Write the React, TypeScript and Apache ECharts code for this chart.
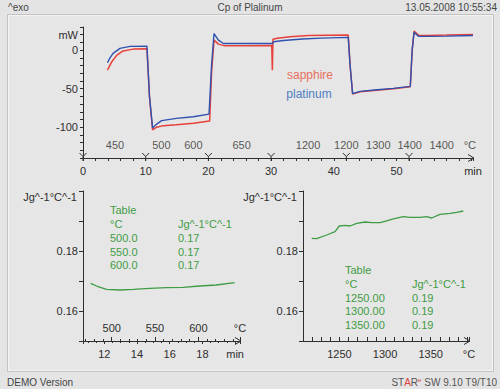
import React, { useEffect, useRef } from 'react';
import * as echarts from 'echarts';

// ---- top chart: heat flow (mW) vs time (min)
const sapphire: [number, number][] = [
  [3.9, -26], [4.6, -15], [5.4, -6.5], [6.4, -1], [8, 1.3], [10.2, 1.7],
  [10.6, -60], [11.1, -103.5], [11.75, -100], [12.8, -98], [14.9, -97], [17.6, -95], [20.2, -92],
  [20.5, -30], [20.9, 13], [21.6, 7.8], [22.5, 5.8], [26, 5.8], [30.1, 6],
  [30.2, -26], [30.3, 14], [31, 15.5], [33, 17.5], [36, 19], [39, 19.3], [42.3, 19.5],
  [42.6, -20], [43, -57], [44.2, -54], [46.9, -52], [49.5, -50.2], [52.2, -47.5],
  [52.5, 0], [52.8, 24.6], [53.5, 19.4], [55, 19], [58, 19.5], [62.2, 20.3],
];
const platinum: [number, number][] = [
  [3.9, -16.4], [4.3, -10], [4.8, -4.3], [5.9, 2.2], [7.5, 4.8], [10.2, 5.2],
  [10.6, -60], [11.1, -101], [11.75, -96], [12.55, -91.5], [14.9, -88.6], [17.6, -86.5], [20.1, -83],
  [20.5, -20], [20.9, 21.5], [21.6, 13], [22.4, 8.6], [26, 8.6], [30.2, 8.6],
  [30.4, 10.8], [32, 12.5], [35, 14.5], [38, 15.5], [42.3, 16.5],
  [42.6, -20], [43, -56.5], [44.2, -53.5], [46.9, -51.4], [49.5, -49.7], [52.2, -47],
  [52.5, 0], [52.8, 23], [53.5, 18], [55, 17.8], [58, 18.2], [62.2, 19],
];
const segmentMarkers = [0, 10, 20, 30, 42, 52];
const topTempLabels = ['450', '500', '600', '650', '1200', '1200', '1300', '1400', '1400', '°C'];
const topTempTimes = [5.1, 12.5, 17.6, 25.3, 35.9, 42.0, 47.1, 52.1, 57.2, 61.7];

// ---- bottom left: cp vs time (min)
const cpLowTimes = [11.17, 11.53, 12.14, 12.96, 13.77, 14.79, 15.8, 16.82, 17.83, 18.85, 19.97];
const cpLowValues = [0.16923, 0.16833, 0.16723, 0.167, 0.16723, 0.16757, 0.16777, 0.1679, 0.16833, 0.16867, 0.16943];

// ---- bottom right: cp vs temperature (°C)
const cpHighTemps = [1219.5, 1225, 1236, 1245.1, 1249.8, 1256, 1261.5, 1268.9, 1278, 1285.3, 1294.4, 1299.9, 1309, 1320, 1327.3, 1338.3, 1345.6, 1351.1, 1360.2, 1371.2, 1378.5, 1385.7];
const cpHighValues = [0.18423, 0.1841, 0.18533, 0.18643, 0.18833, 0.18857, 0.18833, 0.18923, 0.18967, 0.18943, 0.18943, 0.1899, 0.19067, 0.19143, 0.19123, 0.19123, 0.19143, 0.191, 0.19223, 0.19257, 0.1929, 0.19333];

const lowTableRows = [['500.0', '0.17'], ['550.0', '0.17'], ['600.0', '0.17']];
const highTableRows = [['1250.00', '0.19'], ['1300.00', '0.19'], ['1350.00', '0.19']];

// axis extents
const TOP_X = [0, 62.2];
const TOP_Y = [-140, 30];
const LOW_X = [10.7, 20.3];
const LOW_T = [466.9, 648.1];
const CP_Y = [0.15, 0.2];
const HIGH_X = [1210, 1392];

const FONT = 'Liberation Sans, Arial, sans-serif';
const AXIS = '#2e2e2e';
const GREEN = '#3f9c45';
const RED = '#e8403a';
const BLUE = '#2f52b0';

function tableGraphics(x1: number, x2: number, y0: number, rows: string[][]) {
  const els: any[] = [];
  const t = (text: string, x: number, y: number) => ({
    type: 'text', x, y, silent: true,
    style: { text, fill: GREEN, font: `11px ${FONT}`, textAlign: 'left', textVerticalAlign: 'middle' },
  });
  els.push(t('Table', x1, y0));
  els.push(t('°C', x1, y0 + 14));
  els.push(t('Jg^-1°C^-1', x2, y0 + 14));
  rows.forEach((r, i) => {
    els.push(t(r[0], x1, y0 + 28 + i * 13.7));
    els.push(t(r[1], x2, y0 + 28 + i * 13.7));
  });
  return els;
}

const arrowSeries = (xAxisIndex: number, yAxisIndex: number, pt: number[]) => ({
  type: 'custom', xAxisIndex, yAxisIndex, silent: true, clip: false, z: 5,
  data: [pt],
  renderItem: (_p: any, api: any) => {
    const c = api.coord([api.value(0), api.value(1)]);
    return {
      type: 'polyline',
      shape: { points: [[c[0] - 5, c[1] - 3.5], [c[0] + 1, c[1]], [c[0] - 5, c[1] + 3.5]] },
      style: { stroke: AXIS, fill: 'none', lineWidth: 1 },
    };
  },
});

export default function App() {
  const ref = useRef<HTMLDivElement>(null);
  useEffect(() => {
    document.body.style.margin = '0';
    if (!ref.current) return;
    const chart = echarts.init(ref.current, undefined, { renderer: 'svg' });

    const axisLabelStyle = { color: AXIS, fontSize: 11, fontFamily: FONT };
    const lineCommon = { show: true, onZero: false, lineStyle: { color: AXIS, width: 1 } };
    const yAxisCommon = (gridIndex: number) => ({
      type: 'value', gridIndex, min: CP_Y[0], max: CP_Y[1], interval: 0.01,
      name: 'Jg^-1°C^-1', nameLocation: 'end', nameGap: -6,
      nameTextStyle: { color: AXIS, fontSize: 11, fontFamily: FONT, align: 'right', verticalAlign: 'middle', padding: [0, 6, 0, 0] },
      axisLine: lineCommon,
      axisTick: { show: true, length: 4, lineStyle: { color: AXIS } },
      splitLine: { show: false },
      axisLabel: {
        ...axisLabelStyle, margin: 5,
        formatter: (v: number) => { const r = Math.round(v * 100); return r === 16 || r === 18 ? v.toFixed(2) : ''; },
      },
    });

    const option: any = {
      animation: false,
      backgroundColor: '#e4e4e4',
      textStyle: { fontFamily: FONT },
      grid: [
        { left: 83, right: 27, top: 27, height: 131 },
        { left: 83, width: 157, top: 191, height: 150 },
        { left: 303, width: 166, top: 191, height: 150 },
      ],
      xAxis: [
        {
          type: 'value', gridIndex: 0, min: TOP_X[0], max: TOP_X[1], interval: 10,
          axisLine: lineCommon,
          axisTick: { show: true, length: 3, lineStyle: { color: AXIS } },
          minorTick: { show: true, splitNumber: 5, length: 3, lineStyle: { color: AXIS } },
          splitLine: { show: false },
          axisLabel: {
            ...axisLabelStyle, margin: 7,
            formatter: (v: number) => (v > 61 ? 'min' : v >= 60 ? '' : String(v)),
          },
        },
        {
          type: 'value', gridIndex: 1, min: LOW_X[0], max: LOW_X[1], splitNumber: 5, position: 'bottom',
          axisLine: lineCommon,
          axisTick: { show: true, length: 3, lineStyle: { color: AXIS } },
          minorTick: { show: true, splitNumber: 4, length: 2, lineStyle: { color: AXIS } },
          splitLine: { show: false },
          axisLabel: {
            ...axisLabelStyle, margin: 7,
            formatter: (v: number) => {
              if (Math.abs(v - 20) < 1e-6) return 'min';
              if (Math.abs(v - Math.round(v)) < 1e-6 && v >= 12 && v <= 18) return String(Math.round(v));
              return '';
            },
          },
        },
        {
          type: 'value', gridIndex: 1, min: LOW_T[0], max: LOW_T[1], splitNumber: 4, position: 'bottom',
          axisLine: { show: false, onZero: false },
          axisTick: { show: true, inside: true, length: 4, lineStyle: { color: AXIS } },
          minorTick: { show: true, splitNumber: 5, length: 2, lineStyle: { color: AXIS } },
          splitLine: { show: false },
          axisLabel: {
            ...axisLabelStyle, inside: true, margin: 8,
            formatter: (v: number) => (v > 647 ? '°C' : Math.abs(v % 50) < 1e-6 ? String(v) : ''),
          },
        },
        {
          type: 'value', gridIndex: 2, min: HIGH_X[0], max: HIGH_X[1], interval: 10,
          axisLine: lineCommon,
          axisTick: { show: true, inside: true, length: 4, lineStyle: { color: AXIS } },
          splitLine: { show: false },
          axisLabel: {
            ...axisLabelStyle, margin: 7,
            formatter: (v: number) => (v > 1391 ? '°C' : Math.abs(v % 50) < 1e-6 ? String(v) : ''),
          },
        },
      ],
      yAxis: [
        {
          type: 'value', gridIndex: 0, min: TOP_Y[0], max: TOP_Y[1], interval: 10,
          axisLine: lineCommon,
          axisTick: { show: true, length: 3, lineStyle: { color: AXIS } },
          splitLine: { show: false },
          axisLabel: {
            ...axisLabelStyle, margin: 5,
            formatter: (v: number) => (v === 20 ? 'mW' : v === 0 || v === -50 || v === -100 ? String(v) : ''),
          },
        },
        yAxisCommon(1),
        yAxisCommon(2),
      ],
      series: [
        {
          type: 'line', name: 'sapphire', xAxisIndex: 0, yAxisIndex: 0, data: sapphire,
          showSymbol: false, silent: true, lineStyle: { color: RED, width: 1.5 },
        },
        {
          type: 'line', name: 'platinum', xAxisIndex: 0, yAxisIndex: 0, data: platinum,
          showSymbol: false, silent: true, lineStyle: { color: BLUE, width: 1.4 },
        },
        {
          type: 'custom', xAxisIndex: 0, yAxisIndex: 0, silent: true, clip: false,
          data: segmentMarkers.map((t) => [t, TOP_Y[0]]),
          renderItem: (_p: any, api: any) => {
            const c = api.coord([api.value(0), api.value(1)]);
            return {
              type: 'group',
              children: [
                { type: 'polyline', shape: { points: [[c[0] - 3.5, c[1] - 5], [c[0], c[1] - 1.5], [c[0] + 3.5, c[1] - 5]] }, style: { stroke: AXIS, fill: 'none', lineWidth: 1 } },
                { type: 'line', shape: { x1: c[0], y1: c[1] - 1.5, x2: c[0], y2: c[1] + 3 }, style: { stroke: AXIS, lineWidth: 1 } },
              ],
            };
          },
        },
        arrowSeries(0, 0, [TOP_X[1], TOP_Y[0]]),
        arrowSeries(1, 1, [LOW_X[1], CP_Y[0]]),
        arrowSeries(3, 2, [HIGH_X[1], CP_Y[0]]),
        {
          type: 'scatter', xAxisIndex: 0, yAxisIndex: 0, silent: true, symbolSize: 0,
          data: topTempTimes.map((t, i) => ({ value: [t, -123.4], name: topTempLabels[i] })),
          label: { show: true, position: 'inside', formatter: '{b}', color: AXIS, fontSize: 11, fontFamily: FONT },
        },
        {
          type: 'line', xAxisIndex: 1, yAxisIndex: 1, data: cpLowTimes.map((t, i) => [t, cpLowValues[i]]),
          showSymbol: false, silent: true, lineStyle: { color: GREEN, width: 1.3 },
        },
        {
          type: 'line', xAxisIndex: 3, yAxisIndex: 2, data: cpHighTemps.map((t, i) => [t, cpHighValues[i]]),
          showSymbol: false, silent: true, lineStyle: { color: GREEN, width: 1.3 },
        },
      ],
      graphic: [
        { type: 'rect', silent: true, z: -10, shape: { x: 7.5, y: 14.5, width: 486, height: 357 }, style: { fill: '#e6e6e6', stroke: '#c2c2c2', lineWidth: 1 } },
        { type: 'rect', silent: true, z: -9, shape: { x: 8.5, y: 15.5, width: 484, height: 355 }, style: { fill: 'none', stroke: '#f3f3f3', lineWidth: 1 } },
        { type: 'text', x: 8, y: 7, silent: true, style: { text: '^exo', fill: '#444', font: `10px ${FONT}`, textVerticalAlign: 'middle' } },
        { type: 'text', x: 250, y: 7, silent: true, style: { text: 'Cp of Plalinum', fill: '#444', font: `10px ${FONT}`, textAlign: 'center', textVerticalAlign: 'middle' } },
        { type: 'text', x: 497, y: 7, silent: true, style: { text: '13.05.2008 10:55:34', fill: '#444', font: `10px ${FONT}`, textAlign: 'right', textVerticalAlign: 'middle' } },
        { type: 'text', x: 310, y: 75, silent: true, style: { text: 'sapphire', fill: '#e8705e', font: `12px ${FONT}`, textAlign: 'center', textVerticalAlign: 'middle' } },
        { type: 'text', x: 309, y: 94, silent: true, style: { text: 'platinum', fill: '#4f7fc2', font: `12px ${FONT}`, textAlign: 'center', textVerticalAlign: 'middle' } },
        ...tableGraphics(110, 178, 210, lowTableRows),
        ...tableGraphics(345, 412, 269.5, highTableRows),
        { type: 'text', x: 7, y: 382, silent: true, style: { text: 'DEMO Version', fill: '#444', font: `10px ${FONT}`, textVerticalAlign: 'middle' } },
        {
          type: 'text', x: 497, y: 382, silent: true,
          style: {
            text: '{g|ST}{r|A}{g|R}{s|e}{g| SW 9.10 T9/T10}',
            textAlign: 'right', textVerticalAlign: 'middle', font: `10px ${FONT}`,
            rich: {
              g: { fill: '#555', fontSize: 10, fontFamily: FONT },
              r: { fill: '#e04040', fontSize: 10, fontFamily: FONT },
              s: { fill: '#e04040', fontSize: 6, fontFamily: FONT, verticalAlign: 'top' },
            },
          },
        },
      ],
    };
    chart.setOption(option);
    return () => chart.dispose();
  }, []);
  return <div ref={ref} style={{ position: 'fixed', left: 0, top: 0, width: 500, height: 389 }} />;
}
